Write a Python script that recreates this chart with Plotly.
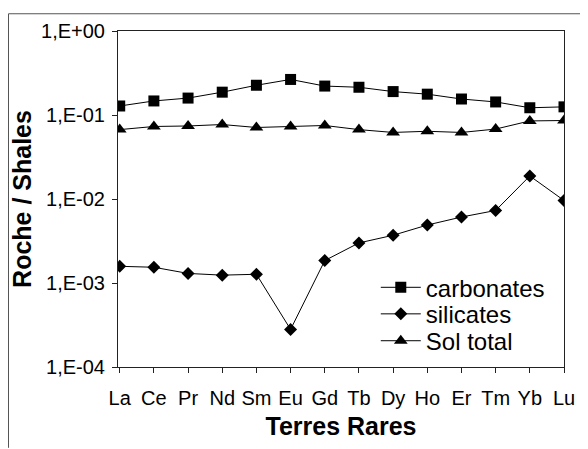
import plotly.graph_objects as go

categories = ["La", "Ce", "Pr", "Nd", "Sm", "Eu", "Gd", "Tb", "Dy", "Ho", "Er", "Tm", "Yb", "Lu"]
carbonates = [0.128, 0.147, 0.159, 0.187, 0.226, 0.265, 0.221, 0.214, 0.190, 0.177, 0.155, 0.143, 0.122, 0.125]
silicates = [0.00158, 0.00154, 0.00130, 0.00124, 0.00127, 0.00028, 0.00185, 0.0030, 0.0037, 0.0049, 0.0061, 0.0073, 0.0188, 0.0096]
sol_total = [0.067, 0.073, 0.074, 0.077, 0.071, 0.073, 0.075, 0.067, 0.062, 0.064, 0.062, 0.068, 0.085, 0.086]
ytick_vals = [1e-4, 1e-3, 1e-2, 1e-1, 1]
ytick_text = ["1,E-04", "1,E-03", "1,E-02", "1,E-01", "1,E+00"]

FONT = "Liberation Sans, Arial, sans-serif"

fig = go.Figure()
series = [
    ("carbonates", carbonates, "square", 11, "legend"),
    ("silicates", silicates, "diamond", 10, "legend2"),
    ("Sol total", sol_total, "triangle-up", 12, "legend3"),
]
for name, vals, sym, size, leg in series:
    fig.add_trace(go.Scatter(
        x=list(range(len(categories))), y=vals, name=name, mode="lines+markers",
        line=dict(color="black", width=1),
        marker=dict(symbol=sym, size=size, color="black"),
        legend=leg,
    ))

leg_common = dict(x=0.578, xanchor="left", yanchor="middle", bgcolor="rgba(0,0,0,0)",
                  font=dict(size=24, family=FONT, color="black"), itemwidth=40, borderwidth=0)

fig.update_layout(
    width=580, height=441,
    margin=dict(l=110, r=24, t=18, b=82),
    paper_bgcolor="white", plot_bgcolor="white",
    font=dict(family=FONT, color="black"),
    showlegend=True,
    legend=dict(y=0.236, **leg_common),
    legend2=dict(y=0.157, **leg_common),
    legend3=dict(y=0.077, **leg_common),
    shapes=[
        dict(type="line", xref="paper", yref="paper", x0=-0.2455, x1=1.0538, y0=1.0513, y1=1.0513,
             line=dict(color="#555", width=1), layer="above"),
        dict(type="line", xref="paper", yref="paper", x0=-0.2455, x1=-0.2455, y0=1.0513, y1=-0.2405,
             line=dict(color="#555", width=1), layer="above"),
    ],
)
fig.update_xaxes(
    range=[-0.05, 13], tickmode="array", tickvals=list(range(len(categories))), ticktext=categories,
    showgrid=False, zeroline=False, showline=True, linecolor="#222", linewidth=1, mirror=True,
    ticks="outside", ticklen=5, tickcolor="#222", tickfont=dict(size=20, family=FONT),
    ticklabelstandoff=8,
    title=dict(text="<b>Terres Rares</b>", font=dict(size=25, family=FONT), standoff=9),
)
fig.update_yaxes(
    type="log", range=[-4, 0], tickmode="array", tickvals=ytick_vals, ticktext=ytick_text,
    showgrid=False, zeroline=False, showline=True, linecolor="#222", linewidth=1, mirror=True,
    ticks="outside", ticklen=5, tickcolor="#222", tickfont=dict(size=20, family=FONT),
    ticklabelstandoff=3,
    title=dict(text="<b>Roche / Shales</b>", font=dict(size=25, family=FONT), standoff=4),
)
fig.write_html("out.html")
